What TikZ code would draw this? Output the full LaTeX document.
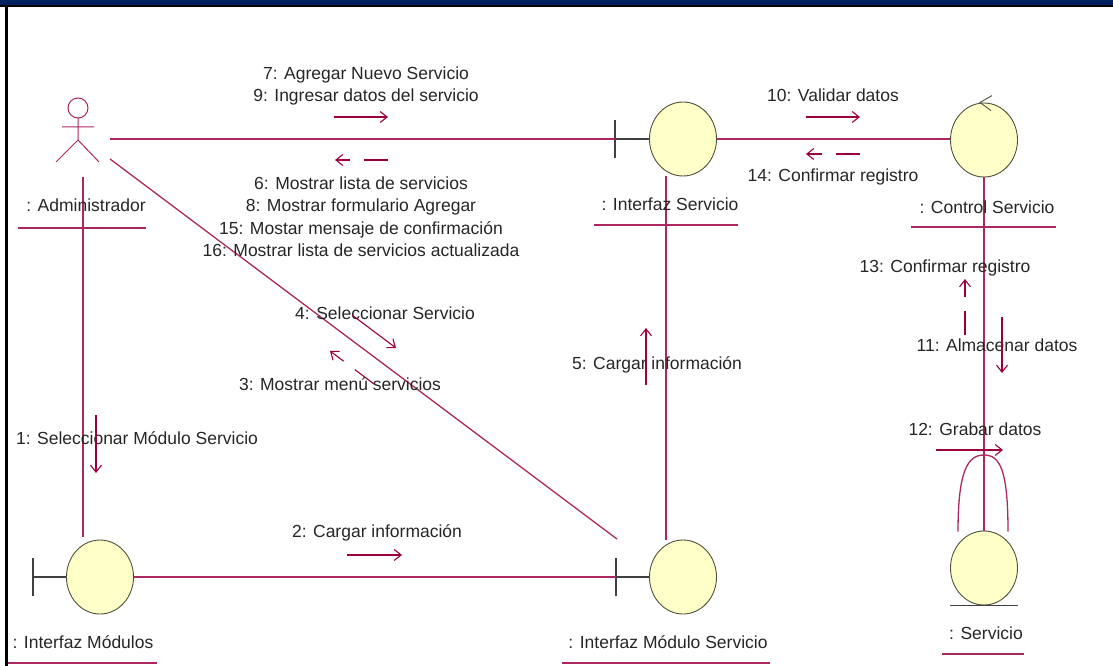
\documentclass[tikz,border=0pt]{standalone}
\usepackage{fontspec}
\setmainfont{Liberation Sans}
\usetikzlibrary{arrows.meta,shapes.geometric}

\definecolor{linkred}{RGB}{170,40,95}
\definecolor{msgred}{RGB}{155,0,60}
\definecolor{objfill}{RGB}{255,255,200}
\definecolor{objline}{RGB}{80,80,60}
\definecolor{topnavy}{RGB}{0,32,96}

\tikzset{
  link/.style={draw=linkred, line width=1.3pt},
  obj/.style={ellipse, draw=objline, fill=objfill, line width=0.9pt,
    minimum width=67pt, minimum height=74pt, inner sep=0pt},
  bnd/.style={draw=black!75, line width=1.2pt},
  lbl/.style={inner sep=0pt, align=center, text=black!85,
    font=\fontsize{17.5}{22.5}\selectfont},
  msg/.style={draw=msgred, line width=1.1pt, -{Straight Barb[length=7pt,width=11pt]}},
  retmsg/.style={msg, dash pattern=on 24pt off 14pt on 40pt}
}

\begin{document}
\begin{tikzpicture}[x=1pt,y=-1pt]
\useasboundingbox (0,0) rectangle (1113,666);
\fill[topnavy] (0,0) rectangle (1113,5);
\fill[black] (0,5) rectangle (1113,7.5);
\fill[black] (4.5,5) rectangle (8,666);

% actor
\coordinate (adm) at (78,108);
\draw[linkred, line width=1pt] (adm) circle (10pt);
\draw[linkred, line width=1pt] (62,127) -- (94,127) (78,118) -- (78,140)
  (56,162) -- (78,140) -- (99,162);
\coordinate (admR) at (110,139);
\coordinate (admD) at (110,159);
\coordinate (admV) at (83,177);

% objetos
\node[obj] (iser) at (683,139) {};
\node[obj] (cser) at (984,140) {};
\node[obj] (imod) at (100,577) {};
\node[obj] (imser) at (683,577) {};
\node[obj] (ser) at (984,568) {};

\coordinate (iserB) at (615,139);
\coordinate (imodB) at (33,577);
\coordinate (imserB) at (616,577);
\coordinate (imserD) at (617,539);
\coordinate (imodT) at (83,537);

\foreach \b/\o in {iserB/iser, imodB/imod, imserB/imser}{
  \draw[bnd] ([yshift=-19pt]\b) -- ([yshift=19pt]\b);
  \draw[bnd] (\b) -- (\o.west);
}
\draw[bnd] ([xshift=-34pt]ser.south) -- ([xshift=34pt]ser.south);
\draw[objline, line width=0.9pt] ([xshift=8pt,yshift=7pt]cser.north)
  -- ([xshift=-4pt]cser.north) -- ([xshift=7pt,yshift=-8pt]cser.north);

% enlaces
\draw[link] (admR) -- (iserB);
\draw[link] (admD) -- (imserD);
\draw[link] (admV) -- (imodT);
\draw[link] (imod.east) -- (imserB);
\draw[link] ([xshift=-17pt]iser.south) -- ([xshift=-17pt]imser.north);
\draw[link] (iser.east) -- (iser.east -| cser.west);
\draw[link] (cser.south) -- (ser.north);
\draw[link] ([xshift=-26pt,yshift=-1pt]ser.north)
  .. controls (958,470) and (968,455) .. (984,455)
  .. controls (1000,455) and (1008,470) .. ([xshift=24pt,yshift=-1pt]ser.north);

% nombres
\node[lbl] (admL) at (86,205) {: Administrador};
\node[lbl] (iserL) at (670,204) {: Interfaz Servicio};
\node[lbl] (cserL) at (987,207) {: Control Servicio};
\node[lbl] (imodL) at (83,642) {: Interfaz Módulos};
\node[lbl] (imserL) at (668,642) {: Interfaz Módulo Servicio};
\node[lbl] (serL) at (986,633) {: Servicio};
\draw[link] (18,228) -- (146,228);
\draw[link] (594,225) -- (738,225);
\draw[link] (911,227) -- (1056,227);
\draw[link] (8,663) -- (157,663);
\draw[link] (562,663) -- (770,663);
\draw[link] (942,654) -- (1024,654);

% mensajes
\node[lbl] (m79) at (366,86) {7: Agregar Nuevo Servicio\\9: Ingresar datos del servicio};
\node[lbl] (m6816) at (361,216.5) {6: Mostrar lista de servicios\\8: Mostrar formulario Agregar\\
  15: Mostar mensaje de confirmación\\16: Mostrar lista de servicios actualizada};
\node[lbl] (m4) at (385,313) {4: Seleccionar Servicio};
\node[lbl] (m3) at (340,384) {3: Mostrar menú servicios};
\node[lbl] (m5) at (657,365) {5: Cargar información};
\node[lbl] (m2) at (377,533) {2: Cargar información};
\node[lbl] (m1) at (137,438) {1: Seleccionar Módulo Servicio};
\node[lbl] (m10) at (833,95) {10: Validar datos};
\node[lbl] (m14) at (833,177) {14: Confirmar registro};
\node[lbl] (m13) at (945,268) {13: Confirmar registro};
\node[lbl] (m11) at (997,345) {11: Almacenar datos};
\node[lbl] (m12) at (975,429) {12: Grabar datos};

\draw[msg] (334,117) -- (388,117);
\draw[retmsg] (388,160) -- (335,160);
\draw[msg] (352,315) -- (396,348);
\draw[retmsg] (374,384) -- (330,351);
\draw[msg] (347,555) -- (402,555);
\draw[msg] (96,415) -- (96,473);
\draw[msg] (646,385) -- (646,328);
\draw[msg] (806,117) -- (860,117);
\draw[retmsg] (860,154) -- (806,154);
\draw[retmsg] (965,335) -- (965,279);
\draw[msg] (1002,317) -- (1002,373);
\draw[msg] (936,450) -- (1003,450);
\end{tikzpicture}
\end{document}
